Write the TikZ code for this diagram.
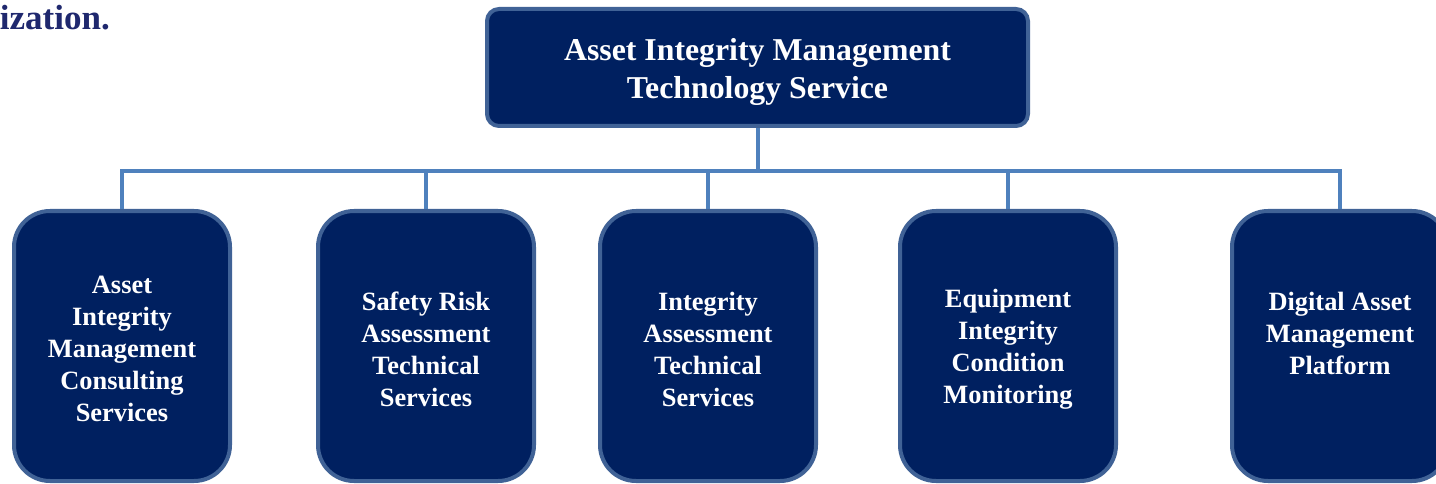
\documentclass[tikz,border=0pt]{standalone}
\usepackage{fontspec}
\setmainfont{Liberation Serif}
\definecolor{boxfill}{RGB}{0,32,96}
\definecolor{boxborder}{RGB}{64,98,150}
\definecolor{conn}{RGB}{79,129,189}
\definecolor{headtext}{RGB}{31,40,110}
\tikzset{
  topbox/.style={draw=boxborder, line width=4pt, fill=boxfill, rounded corners=12pt,
    minimum width=541pt, minimum height=117pt, inner sep=0pt, text=white, align=center,
    font=\fontsize{31.8}{38}\selectfont\bfseries},
  subbox/.style={draw=boxborder, line width=4pt, fill=boxfill, rounded corners=36pt,
    minimum width=216pt, minimum height=270pt, inner sep=0pt, text=white, align=center,
    font=\fontsize{26.4}{32}\selectfont\bfseries},
  subtext/.style={text=white, align=center, inner sep=0pt,
    font=\fontsize{26.4}{32}\selectfont\bfseries},
  link/.style={draw=conn, line width=4pt}
}
\begin{document}
\begin{tikzpicture}[x=1pt,y=-1pt]
\useasboundingbox (0,0) rectangle (1436,484);
\clip (0,0) rectangle (1436,484);
\node[anchor=base east, text=headtext, inner sep=0pt, font=\fontsize{35}{40}\selectfont\bfseries] (head) at (110,30) {ization.};
\node[topbox] (top) at (757.5,67.5) {};
\node[subtext, font=\fontsize{31.8}{38}\selectfont\bfseries] (toptext) at (757.5,72) {Asset Integrity Management\\Technology Service};
\node[subbox] (b1) at (122,346) {};
\node[subtext] (t1) at (122,349) {Asset\\Integrity\\Management\\Consulting\\Services};
\node[subbox] (b2) at (426,346) {};
\node[subtext] (t2) at (426,349) {Safety Risk\\Assessment\\Technical\\Services};
\node[subbox] (b3) at (708,346) {};
\node[subtext] (t3) at (708,349) {Integrity\\Assessment\\Technical\\Services};
\node[subbox] (b4) at (1008,346) {};
\node[subtext] (t4) at (1008,349) {Equipment\\Integrity\\Condition\\Monitoring};
\node[subbox] (b5) at (1340,346) {};
\node[subtext] (t5) at (1340,333) {Digital Asset\\Management\\Platform};
\coordinate (bus) at (757.5,171);
\draw[link] (top.south) -- (bus);
\draw[link] (b1.north) |- (bus) -| (b5.north);
\foreach \b in {b2,b3,b4} \draw[link] (\b.north) -- (\b.north |- bus);
\end{tikzpicture}
\end{document}
